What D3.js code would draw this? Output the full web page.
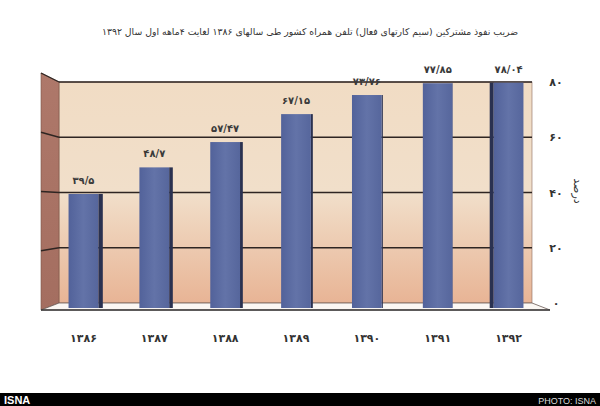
<!DOCTYPE html>
<html><head><meta charset="utf-8">
<script src="https://cdn.jsdelivr.net/npm/d3@7"></script>
<style>body{margin:0;background:#fff}svg{display:block}</style>
</head><body>
<svg id="c" width="600" height="406"></svg>
<script>
const title = "ضریب نفوذ مشترکین (سیم کارتهای فعال) تلفن همراه کشور طی سالهای ۱۳۸۶ لغایت ۴ماهه اول سال ۱۳۹۲";
const categories = ["۱۳۸۶","۱۳۸۷","۱۳۸۸","۱۳۸۹","۱۳۹۰","۱۳۹۱","۱۳۹۲"];
const values = [39.5, 48.7, 57.47, 67.15, 73.76, 77.85, 78.04];
const yTicks = [0, 20, 40, 60, 80];
const yAxisTitle = "درصد";
const credit = "PHOTO: ISNA";
const brand = "ISNA";

const fa = s => String(s).replace(/\d/g, d => "۰۱۲۳۴۵۶۷۸۹"[d]).replace(".", "/");

const svg = d3.select("#c");
const defs = svg.append("defs");
const F = "DejaVu Sans, sans-serif";

const wall = defs.append("linearGradient").attr("id","wall").attr("x1",0).attr("y1",0).attr("x2",0).attr("y2",1);
wall.append("stop").attr("offset","0").attr("stop-color","#f1dcc4");
wall.append("stop").attr("offset","0.5").attr("stop-color","#f1dfca");
wall.append("stop").attr("offset","1").attr("stop-color","#e8b495");
const side = defs.append("linearGradient").attr("id","side").attr("x1",0).attr("y1",0).attr("x2",0).attr("y2",1);
side.append("stop").attr("offset","0").attr("stop-color","#ae786a");
side.append("stop").attr("offset","1").attr("stop-color","#a46e60");
const bar = defs.append("linearGradient").attr("id","bar").attr("x1",0).attr("y1",0).attr("x2",1).attr("y2",0);
bar.append("stop").attr("offset","0").attr("stop-color","#52629a");
bar.append("stop").attr("offset","0.5").attr("stop-color","#6373a8");
bar.append("stop").attr("offset","1").attr("stop-color","#56669c");

// geometry
const xL = 41, xB = 59, xR = 532, xRF = 550;
const yBack = d3.scaleLinear().domain([0,80]).range([303,82]);
const yFront = d3.scaleLinear().domain([0,80]).range([310,73]);
const yBar = d3.scaleLinear().domain([0,80]).range([308,77]);
const x = d3.scaleBand().domain(categories).range([48,544]).paddingInner(0.58).paddingOuter(0.29);

// back wall
svg.append("rect").attr("x",xB).attr("y",yBack(80)).attr("width",xR-xB).attr("height",yBack(0)-yBack(80))
  .attr("fill","url(#wall)").attr("stroke","#8a6a5a").attr("stroke-width",0.6);
// left wall
svg.append("path").attr("d",`M${xL},${yFront(80)}L${xB},${yBack(80)}L${xB},${yBack(0)}L${xL},${yFront(0)}Z`)
  .attr("fill","url(#side)").attr("stroke","#7a5448").attr("stroke-width",0.6);
// floor
svg.append("path").attr("d",`M${xL},${yFront(0)}L${xB},${yBack(0)}L${xR},${yBack(0)}L${xRF},${yFront(0)}Z`)
  .attr("fill","#fbf7f3").attr("stroke","#6a5a55").attr("stroke-width",0.8);
svg.append("line").attr("x1",xL).attr("x2",xRF).attr("y1",yFront(0)).attr("y2",yFront(0))
  .attr("stroke","#3a3a3a").attr("stroke-width",1.6);

// gridlines
const grid = svg.append("g");
yTicks.filter(v => v > 0).forEach(v => {
  grid.append("line").attr("x1",xB).attr("x2",xR).attr("y1",yBack(v)).attr("y2",yBack(v))
    .attr("stroke","#2e2522").attr("stroke-width",1.3);
  grid.append("line").attr("x1",xL).attr("x2",xB).attr("y1",yFront(v)).attr("y2",yBack(v))
    .attr("stroke","#2e2522").attr("stroke-width",1.3);
});

// bars
const bw = x.bandwidth();
const g = svg.append("g");
values.forEach((v, i) => {
  const c = categories[i];
  const x0 = x(c), top = yBar(v), bot = yBar(0);
  const last = i === values.length - 1;
  const sw = last ? 4 : Math.max(0, 4.5 - i * 0.85);
  if (sw > 0) {
    const sx = last ? x0 - sw : x0 + bw;
    g.append("rect").attr("x",sx).attr("y",top).attr("width",sw).attr("height",bot-top).attr("fill","#2a3150");
  }
  g.append("rect").attr("x",x0).attr("y",top).attr("width",bw).attr("height",bot-top).attr("fill","url(#bar)");
  g.append("text").attr("x",x0+bw/2).attr("y",top-10).attr("text-anchor","middle")
    .attr("font-family",F).attr("font-size",10).attr("font-weight","bold").attr("fill","#3a3a3a")
    .text(fa(v));
  g.append("text").attr("x",x0+bw/2).attr("y",342).attr("text-anchor","middle")
    .attr("font-family",F).attr("font-size",11).attr("font-weight","bold").attr("fill","#333")
    .text(c);
});

// y axis labels
yTicks.forEach(v => {
  svg.append("text").attr("x",556).attr("y",yBack(v)+4).attr("text-anchor","middle")
    .attr("font-family",F).attr("font-size",11).attr("font-weight","bold").attr("fill","#333").text(fa(v));
});
svg.append("text").attr("transform","translate(574,191) rotate(90)").attr("text-anchor","middle")
  .attr("font-family",F).attr("font-size",11).attr("fill","#333").text(yAxisTitle);

// title
svg.append("text").attr("x",310).attr("y",35).attr("text-anchor","middle").attr("direction","rtl")
  .attr("font-family",F).attr("font-size",9.3).attr("fill","#333").text(title);

// bottom strip
svg.append("rect").attr("x",0).attr("y",393).attr("width",600).attr("height",13).attr("fill","#000");
svg.append("text").attr("x",4).attr("y",404).attr("font-family","Liberation Sans, Arial, sans-serif")
  .attr("font-size",11).attr("font-weight","bold").attr("fill","#fff").text(brand);
svg.append("text").attr("x",596).attr("y",403.5).attr("text-anchor","end").attr("font-family","Liberation Sans, Arial, sans-serif")
  .attr("font-size",9).attr("fill","#ddd").text(credit);
</script>
</body></html>
